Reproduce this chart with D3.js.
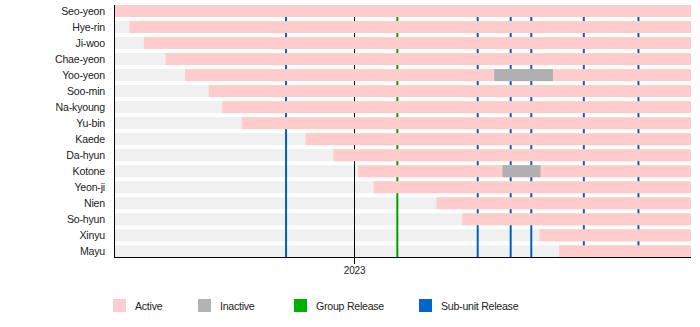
<!DOCTYPE html>
<html><head><meta charset="utf-8">
<script src="https://cdn.jsdelivr.net/npm/d3@7/dist/d3.min.js"></script>
<style>body{margin:0;background:#fff;}svg{display:block;font-family:"Liberation Sans",Arial,sans-serif;}</style>
</head><body><svg id="c" width="700" height="327"></svg>
<script>
const members = ["Seo-yeon","Hye-rin","Ji-woo","Chae-yeon","Yoo-yeon","Soo-min","Na-kyoung","Yu-bin","Kaede","Da-hyun","Kotone","Yeon-ji","Nien","So-hyun","Xinyu","Mayu"];
const joinDates = ["2022-05-14","2022-05-28","2022-06-11","2022-07-02","2022-07-21","2022-08-13","2022-08-26","2022-09-14","2022-11-15","2022-12-12","2023-01-05","2023-01-20","2023-03-22","2023-04-16","2023-06-30","2023-07-19"];
const inactiveMembers = ["Yoo-yeon","Kotone"];
const inactiveStart = ["2023-05-17","2023-05-25"];
const inactiveEnd = ["2023-07-13","2023-07-01"];
const groupReleases = ["2023-02-12"];
const subunitReleases = ["2022-10-27","2023-05-01","2023-06-02","2023-06-22","2023-08-12","2023-10-04"];
const periodStart = "2022-05-14", periodEnd = "2023-11-24";
const yearTicks = ["2023-01-01"];
const tickLabels = ["2023"];
const legendLabels = ["Active","Inactive","Group Release","Sub-unit Release"];
const legendColors = ["#ffccd0","#b3b3b3","#00b000","#0066cc"];

const P = d3.timeParse("%Y-%m-%d");
const svg = d3.select("#c");
const x = d3.scaleTime().domain([P(periodStart), P(periodEnd)]).range([115, 691]);
const y = d3.scaleBand().domain(members).range([5, 257.3]).paddingInner(0.25).paddingOuter(0);
const bh = y.bandwidth();

// background bars
svg.append("g").selectAll("rect").data(members).join("rect")
  .attr("x", x.range()[0]).attr("width", x.range()[1]-x.range()[0])
  .attr("y", d=>y(d)).attr("height", bh).attr("fill","#f0f0f0");

// vertical lines
const lines = svg.append("g");
lines.selectAll("line.y").data(yearTicks).join("line")
  .attr("x1", d=>Math.round(x(P(d)))+0.5).attr("x2", d=>Math.round(x(P(d)))+0.5)
  .attr("y1", 5).attr("y2", 264).attr("stroke","#000").attr("stroke-width",1);
lines.selectAll("line.g").data(groupReleases).join("line")
  .attr("x1", d=>x(P(d))).attr("x2", d=>x(P(d)))
  .attr("y1", 5).attr("y2", 257).attr("stroke","#00a000").attr("stroke-width",2);
lines.selectAll("line.s").data(subunitReleases).join("line")
  .attr("x1", d=>x(P(d))).attr("x2", d=>x(P(d)))
  .attr("y1", 5).attr("y2", 257).attr("stroke","#0060c0").attr("stroke-width",2);

// active bars
svg.append("g").selectAll("rect").data(members).join("rect")
  .attr("x", (d,i)=>x(P(joinDates[i]))).attr("width", (d,i)=>x.range()[1]-x(P(joinDates[i])))
  .attr("y", d=>y(d)).attr("height", bh).attr("fill","#ffcccc");

// inactive bars
svg.append("g").selectAll("rect").data(inactiveMembers).join("rect")
  .attr("x", (d,i)=>x(P(inactiveStart[i]))).attr("width", (d,i)=>x(P(inactiveEnd[i]))-x(P(inactiveStart[i])))
  .attr("y", d=>y(d)).attr("height", bh).attr("fill","#b0b0b0");

// axes
svg.append("line").attr("x1",114.5).attr("x2",114.5).attr("y1",5).attr("y2",258).attr("stroke","#000");
svg.append("line").attr("x1",114).attr("x2",691).attr("y1",257.5).attr("y2",257.5).attr("stroke","#000");
svg.append("g").selectAll("text").data(yearTicks).join("text")
  .attr("x", d=>x(P(d))+0.5).attr("y", 274).attr("text-anchor","middle")
  .attr("font-size",10).attr("letter-spacing",-0.2).attr("fill","#222").text((d,i)=>tickLabels[i]);

// member labels
svg.append("g").selectAll("text").data(members).join("text")
  .attr("x",105).attr("y", d=>y(d)+bh/2+4).attr("text-anchor","end")
  .attr("font-size",10.6).attr("letter-spacing",-0.2).attr("fill","#222").text(d=>d);

// legend
const lx = [113, 198, 294, 419];
const lg = svg.append("g").selectAll("g").data(legendLabels).join("g")
  .attr("transform",(d,i)=>`translate(${lx[i]},299)`);
lg.append("rect").attr("width",13).attr("height",13).attr("fill",(d,i)=>legendColors[i]);
lg.append("text").attr("x",22).attr("y",11).attr("font-size",10.6).attr("letter-spacing",-0.25).attr("fill","#222").text(d=>d);
</script></body></html>
